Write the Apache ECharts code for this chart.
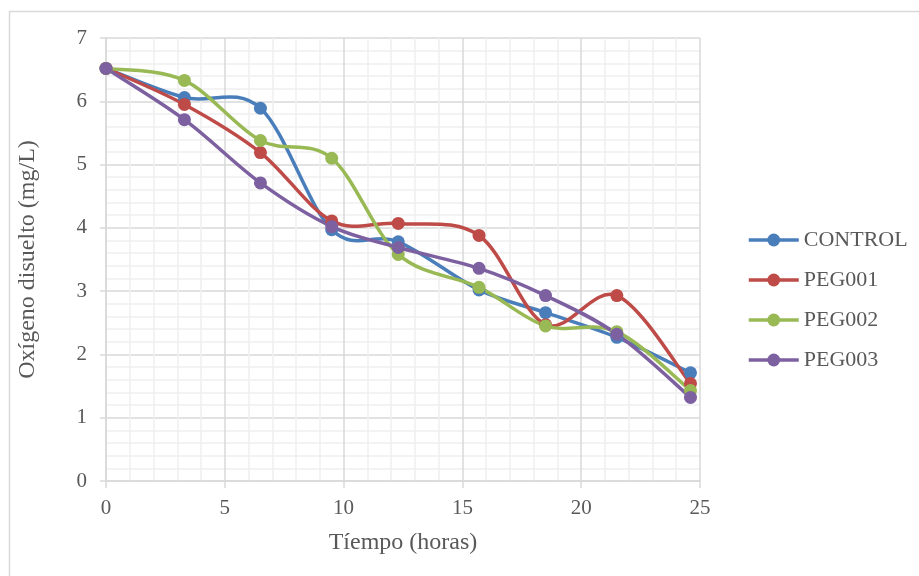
<!DOCTYPE html>
<html>
<head>
<meta charset="utf-8">
<script src="https://cdn.jsdelivr.net/npm/echarts@6/dist/echarts.min.js"></script>
<style>
html,body{margin:0;padding:0;background:#fff;}
#c{width:919px;height:576px;}
</style>
</head>
<body>
<div id="c"></div>
<script>
const hours = [0, 3.3, 6.5, 9.5, 12.3, 15.7, 18.5, 21.5, 24.6];
const control = [6.52, 6.06, 5.89, 3.97, 3.78, 3.02, 2.66, 2.27, 1.71];
const peg001 = [6.52, 5.95, 5.19, 4.11, 4.07, 3.88, 2.47, 2.93, 1.54];
const peg002 = [6.52, 6.33, 5.38, 5.10, 3.58, 3.06, 2.45, 2.36, 1.43];
const peg003 = [6.52, 5.71, 4.71, 4.02, 3.69, 3.36, 2.93, 2.32, 1.32];
const seriesNames = ['CONTROL', 'PEG001', 'PEG002', 'PEG003'];
const seriesData = [control, peg001, peg002, peg003];
const colors = ['#4A7EBB', '#BE4B48', '#98B954', '#7D60A0'];

const font = '"Liberation Serif", "Times New Roman", serif';
const textColor = '#595959';
const LW = 3.5;

// Smooth curve segment (Catmull-Rom style, like spreadsheet "smoothed line")
function makeCurveSeries(idx) {
  const vals = seriesData[idx];
  return {
    name: seriesNames[idx] + ' ',
    type: 'custom',
    data: hours.map((h, j) => [h, vals[j]]),
    encode: { x: 0, y: 1 },
    silent: true,
    renderItem: function (params, api) {
      const j = params.dataIndex;
      const n = hours.length;
      if (j >= n - 1) return null;
      const p = k => api.coord([hours[Math.max(0, Math.min(n - 1, k))], vals[Math.max(0, Math.min(n - 1, k))]]);
      const p0 = p(j - 1), p1 = p(j), p2 = p(j + 1), p3 = p(j + 2);
      const t = 1 / 6;
      return {
        type: 'bezierCurve',
        shape: {
          x1: p1[0], y1: p1[1], x2: p2[0], y2: p2[1],
          cpx1: p1[0] + (p2[0] - p0[0]) * t, cpy1: p1[1] + (p2[1] - p0[1]) * t,
          cpx2: p2[0] - (p3[0] - p1[0]) * t, cpy2: p2[1] - (p3[1] - p1[1]) * t
        },
        style: { stroke: colors[idx], lineWidth: LW, fill: null, lineCap: 'round' }
      };
    }
  };
}

const series = [];
seriesNames.forEach((n, i) => {
  series.push(makeCurveSeries(i));
  series.push({
    name: n, type: 'line',
    data: hours.map((h, j) => [h, seriesData[i][j]]),
    symbol: 'circle', symbolSize: 13, showSymbol: true,
    itemStyle: { color: colors[i] },
    lineStyle: { color: colors[i], width: LW, opacity: 0 }
  });
});

const chart = echarts.init(document.getElementById('c'));
chart.setOption({
  animation: false,
  backgroundColor: '#fff',
  graphic: [{
    type: 'rect', z: -10, silent: true,
    shape: { x: 9.5, y: 11.5, width: 940, height: 600 },
    style: { fill: 'none', stroke: '#d9d9d9', lineWidth: 1.5 }
  }],
  grid: { left: 106, top: 38, right: 219, bottom: 95, containLabel: false },
  legend: {
    orient: 'vertical', left: 747, top: 229, padding: 0,
    itemWidth: 50, itemHeight: 16, itemGap: 18,
    lineStyle: { width: LW, opacity: 1 },
    textStyle: { fontFamily: font, fontSize: 22, color: textColor },
    data: seriesNames
  },
  xAxis: {
    type: 'value', min: 0, max: 25, interval: 5,
    name: 'Tíempo (horas)', nameLocation: 'middle', nameGap: 50,
    nameTextStyle: { fontFamily: font, fontSize: 24, color: textColor },
    axisLine: { show: true, lineStyle: { color: '#d9d9d9', width: 1.5 } },
    axisTick: { show: true, inside: false, length: 7, lineStyle: { color: '#d9d9d9', width: 1.5 } },
    axisLabel: { fontFamily: font, fontSize: 21, color: textColor, margin: 17 },
    splitLine: { show: true, lineStyle: { color: '#d9d9d9', width: 1.5 } },
    minorTick: { show: false, splitNumber: 5 },
    minorSplitLine: { show: true, lineStyle: { color: '#f0f0f0', width: 1.5 } }
  },
  yAxis: {
    type: 'value', min: 0, max: 7, interval: 1,
    name: 'Oxígeno disuelto (mg/L)', nameLocation: 'middle', nameGap: 66,
    nameTextStyle: { fontFamily: font, fontSize: 24, color: textColor },
    axisLine: { show: true, lineStyle: { color: '#d9d9d9', width: 1.5 } },
    axisTick: { show: true, inside: false, length: 6, lineStyle: { color: '#d9d9d9', width: 1.5 } },
    axisLabel: { fontFamily: font, fontSize: 21, color: textColor, margin: 19 },
    splitLine: { show: true, lineStyle: { color: '#d9d9d9', width: 1.5 } },
    minorTick: { show: false, splitNumber: 5 },
    minorSplitLine: { show: true, lineStyle: { color: '#f0f0f0', width: 1.5 } }
  },
  series: series
});
</script>
</body>
</html>
